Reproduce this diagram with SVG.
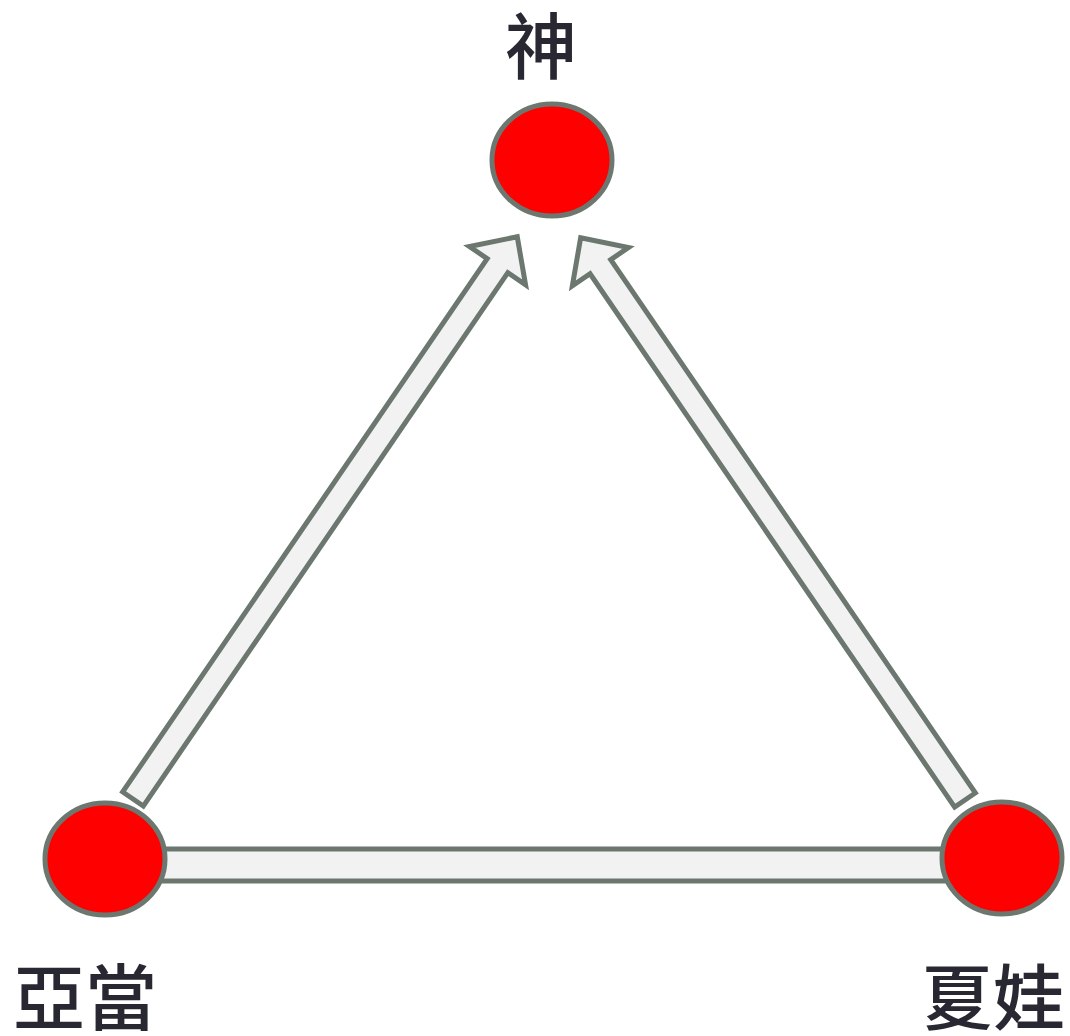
<svg xmlns="http://www.w3.org/2000/svg" width="1070" height="1036" viewBox="0 0 1070 1036">
<style>
.arrow{fill:#f2f2f2;stroke:#6b776f;stroke-width:5;stroke-linejoin:miter}
.node{fill:#ff0000;stroke:#6b776f;stroke-width:5}
.label{font-family:"Noto Sans CJK TC","Noto Sans CJK SC",sans-serif;font-size:72px;font-weight:500;fill:#282833;text-anchor:middle}
</style>
<defs>
<path id="blockArrow" d="M0,-12.5 L646,-12.5 L646,-34 L681,0 L646,34 L646,12.5 L0,12.5 Z"/>
</defs>
<rect width="1070" height="1036" fill="#ffffff"/>
<g id="connectors">
<rect class="arrow" x="105" y="849" width="897" height="32"/>
<use href="#blockArrow" class="arrow" transform="translate(133,799) rotate(-55.65)"/>
<use href="#blockArrow" class="arrow" transform="translate(965,800) rotate(-124.36)"/>
</g>
<g id="node-god">
<ellipse class="node" cx="552" cy="160" rx="60" ry="56"/>
<text class="label" x="541" y="73">神</text>
</g>
<g id="node-adam">
<ellipse class="node" cx="105" cy="859" rx="60" ry="56"/>
<text class="label" x="85" y="1024">亞當</text>
</g>
<g id="node-eve">
<ellipse class="node" cx="1002" cy="858" rx="60" ry="56"/>
<text class="label" x="993" y="1024">夏娃</text>
</g>
</svg>
